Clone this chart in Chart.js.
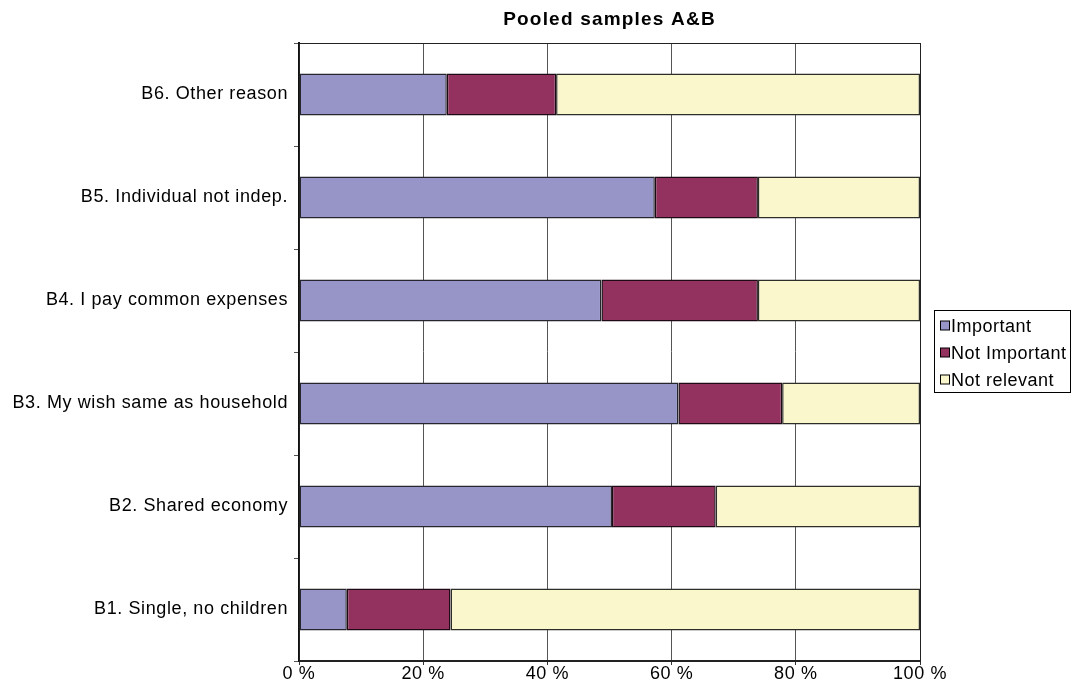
<!DOCTYPE html>
<html>
<head>
<meta charset="utf-8">
<title>Pooled samples A&amp;B</title>
<script src="https://cdn.jsdelivr.net/npm/chart.js@4/dist/chart.umd.min.js"></script>
<style>
  html, body { margin: 0; padding: 0; background: #fff; }
  #wrap { width: 1071px; height: 690px; }
</style>
</head>
<body>
<div id="wrap"><canvas id="myChart" width="1071" height="690"></canvas></div>
<script>
// categories top to bottom
var categories = [
  'B6. Other reason',
  'B5. Individual not indep.',
  'B4. I pay common expenses',
  'B3. My wish same as household',
  'B2. Shared economy',
  'B1. Single, no children'
];
// shares in %
var important    = [23.8, 57.3, 48.7, 61.1, 50.4, 7.7];
var notImportant = [17.6, 16.6, 25.2, 16.7, 16.7, 16.7];
var notRelevant  = [58.6, 26.1, 26.1, 22.2, 32.9, 75.6];
var xTicks = [0, 20, 40, 60, 80, 100];

var chartTitle = 'Pooled samples A&B';

var FONT = '"Liberation Sans", Arial, Helvetica, sans-serif';
Chart.defaults.font.family = FONT;
Chart.defaults.font.size = 18;
Chart.defaults.color = '#000';

// slightly wider text, like the Helvetica of the original export
var spacing = {
  id: 'spacing',
  beforeDraw: function(chart) {
    chart.ctx.letterSpacing = '0.6px';
  }
};

// box around the plot area + the title on top of it
var plotFrame = {
  id: 'plotFrame',
  afterDraw: function(chart) {
    var a = chart.chartArea, ctx = chart.ctx;
    ctx.save();
    ctx.strokeStyle = '#222';
    ctx.lineWidth = 1;
    ctx.strokeRect(Math.round(a.left) + 0.5, Math.round(a.top) + 0.5,
      Math.round(a.right - a.left), Math.round(a.bottom - a.top));

    ctx.letterSpacing = '1.2px';
    ctx.font = 'bold 19px ' + FONT;
    ctx.fillStyle = '#000';
    ctx.textAlign = 'center';
    ctx.textBaseline = 'middle';
    ctx.fillText(chartTitle, (a.left + a.right) / 2, 20);
    ctx.restore();
  }
};

// framed legend on the right
var boxLegend = {
  id: 'boxLegend',
  afterDraw: function(chart) {
    var ctx = chart.ctx;
    var left = 934.5, top = 310.5, w = 136, h = 82;
    ctx.save();
    ctx.strokeStyle = '#000';
    ctx.lineWidth = 1;
    ctx.strokeRect(left, top, w, h);
    ctx.font = '18px ' + FONT;
    ctx.letterSpacing = '0.5px';
    ctx.textBaseline = 'middle';
    chart.data.datasets.forEach(function(ds, i) {
      var cy = 326.5 + i * 27;
      ctx.fillStyle = ds.backgroundColor;
      ctx.fillRect(940.5, cy - 5.5, 9, 9);
      ctx.strokeStyle = '#000';
      ctx.strokeRect(940.5, cy - 5.5, 9, 9);
      ctx.fillStyle = '#000';
      ctx.fillText(ds.label, 951, cy + 1);
    });
    ctx.restore();
  }
};

var ctx = document.getElementById('myChart').getContext('2d');

var data = {
  labels: categories,
  datasets: [{
    label: 'Important',
    data: important,
    backgroundColor: '#9795C8',
    borderColor: '#26262e'
  }, {
    label: 'Not Important',
    data: notImportant,
    backgroundColor: '#93325F',
    borderColor: '#1e0a14'
  }, {
    label: 'Not relevant',
    data: notRelevant,
    backgroundColor: '#FAF7CD',
    borderColor: '#2e2e28'
  }]
};

var myChart = new Chart(ctx, {
  type: 'bar',
  data: data,
  plugins: [spacing, plotFrame, boxLegend],
  options: {
    indexAxis: 'y',
    responsive: false,
    animation: false,
    layout: { padding: { left: 4, right: 151, top: 43, bottom: 0 } },
    datasets: {
      bar: {
        categoryPercentage: 1,
        barPercentage: 0.41,
        borderWidth: 1.5,
        borderSkipped: false,
        inflateAmount: 0
      }
    },
    plugins: {
      legend: { display: false },
      tooltip: { enabled: false },
      title: { display: false }
    },
    scales: {
      x: {
        stacked: true,
        min: 0,
        max: 100,
        afterBuildTicks: function(scale) {
          scale.ticks = xTicks.map(function(v) { return { value: v }; });
        },
        afterFit: function(scale) { scale.height = 29; },
        ticks: {
          padding: -2,
          color: '#000',
          callback: function(v) { return v + ' %'; }
        },
        grid: { color: '#555', lineWidth: 1, tickLength: 4, tickColor: '#333' },
        border: { color: '#222', width: 2 }
      },
      y: {
        stacked: true,
        afterFit: function(scale) { scale.width = 295; },
        ticks: { padding: 6, color: '#000' },
        grid: { drawOnChartArea: false, tickLength: 5, color: '#555' },
        border: { color: '#111', width: 2 }
      }
    }
  }
});
</script>
</body>
</html>
